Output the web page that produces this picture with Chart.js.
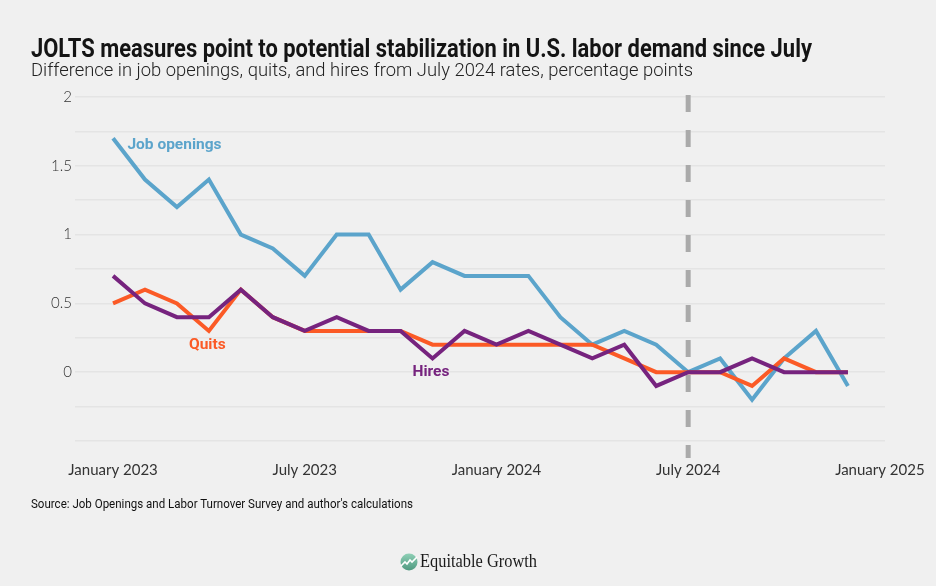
<!DOCTYPE html>
<html>
<head>
<meta charset="utf-8">
<script src="https://cdn.jsdelivr.net/npm/chart.js@4.4.1/dist/chart.umd.min.js"></script>
<style>
html,body{margin:0;padding:0;background:#f0f0f0;}
body{width:936px;height:586px;position:relative;overflow:hidden;}
#c{position:absolute;left:0;top:0;}
.t{position:absolute;white-space:nowrap;transform-origin:0 0;line-height:1;}
#title{left:31px;top:36px;font-family:"Liberation Sans Narrow","Roboto",sans-serif;font-weight:bold;font-size:25px;color:#141414;}
#sub{left:31px;top:60px;font-family:"Roboto",sans-serif;font-weight:300;font-size:19px;color:#222;}
#src{left:31px;top:497px;font-family:"Liberation Sans Narrow","Roboto",sans-serif;font-size:13px;color:#111;}
#logo{position:absolute;left:400px;top:552px;height:20px;}
#logoText{left:420px;top:552px;font-family:"Liberation Serif",serif;font-size:18px;color:#1a1a1a;}
</style>
</head>
<body>
<canvas id="c" width="936" height="586"></canvas>
<div class="t" id="title" data-w="781">JOLTS measures point to potential stabilization in U.S. labor demand since July</div>
<div class="t" id="sub" data-w="662">Difference in job openings, quits, and hires from July 2024 rates, percentage points</div>
<div class="t" id="src" data-w="382">Source: Job Openings and Labor Turnover Survey and author's calculations</div>
<svg id="logo" width="18" height="20" viewBox="0 0 18 20">
  <defs><linearGradient id="g" x1="0" y1="0" x2="0" y2="1"><stop offset="0" stop-color="#8fd0b6"/><stop offset="1" stop-color="#4f9980"/></linearGradient></defs>
  <circle cx="9" cy="10" r="8.5" fill="url(#g)"/>
  <polyline points="1,14 5,10 7,12 10,8 12,10 17,5" fill="none" stroke="#fff" stroke-width="1.6"/>
</svg>
<div class="t" id="logoText" data-w="117">Equitable Growth</div>
<script>
// ---- data (monthly, January 2023 .. December 2024) ----
const months = ["2023-01","2023-02","2023-03","2023-04","2023-05","2023-06","2023-07","2023-08","2023-09","2023-10","2023-11","2023-12",
                "2024-01","2024-02","2024-03","2024-04","2024-05","2024-06","2024-07","2024-08","2024-09","2024-10","2024-11","2024-12"];
const jobOpenings = [1.7,1.4,1.2,1.4,1.0,0.9,0.7,1.0,1.0,0.6,0.8,0.7,0.7,0.7,0.4,0.2,0.3,0.2,0.0,0.1,-0.2,0.1,0.3,-0.1];
const quits       = [0.5,0.6,0.5,0.3,0.6,0.4,0.3,0.3,0.3,0.3,0.2,0.2,0.2,0.2,0.2,0.2,0.1,0.0,0.0,0.0,-0.1,0.1,0.0,0.0];
const hires       = [0.7,0.5,0.4,0.4,0.6,0.4,0.3,0.4,0.3,0.3,0.1,0.3,0.2,0.3,0.2,0.1,0.2,-0.1,0.0,0.0,0.1,0.0,0.0,0.0];
const xTickPositions = [0,6,12,18,24];
const xTickLabels = ["January 2023","July 2023","January 2024","July 2024","January 2025"];
const yTickValues = [-0.5,-0.25,0,0.25,0.5,0.75,1,1.25,1.5,1.75,2];
const referenceMonth = 18; // July 2024

// fit text widths
document.querySelectorAll('.t[data-w]').forEach(el=>{
  const w = el.getBoundingClientRect().width;
  el.style.transform = 'scaleX(' + (parseFloat(el.dataset.w)/w) + ')';
});

const toPts = arr => arr.map((v,i)=>({x:i,y:v}));

const annot = {
  id:'annot',
  beforeDatasetsDraw(chart){
    const {ctx, scales:{x}} = chart;
    const px = x.getPixelForValue(referenceMonth);
    ctx.save();
    ctx.strokeStyle = '#aaaaaa';
    ctx.lineWidth = 5;
    ctx.setLineDash([17,18]);
    ctx.beginPath();
    ctx.moveTo(px, chart.chartArea.top - 2);
    ctx.lineTo(px, chart.chartArea.bottom + 17);
    ctx.stroke();
    ctx.restore();
  },
  afterDatasetsDraw(chart){
    const {ctx, scales:{x,y}} = chart;
    ctx.save();
    ctx.font = 'bold 15.5px Roboto';
    ctx.textBaseline = 'middle';
    ctx.fillStyle = '#5ba4cb'; ctx.textAlign = 'left';
    ctx.fillText('Job openings', x.getPixelForValue(0.45), y.getPixelForValue(1.65));
    ctx.fillStyle = '#fb5a26'; ctx.textAlign = 'center';
    ctx.fillText('Quits', x.getPixelForValue(2.95), y.getPixelForValue(0.195));
    ctx.fillStyle = '#76237e';
    ctx.fillText('Hires', x.getPixelForValue(9.95), y.getPixelForValue(0));
    ctx.restore();
  }
};

const common = {borderWidth:4, pointRadius:0, tension:0, fill:false, borderCapStyle:'butt', borderJoinStyle:'miter'};
new Chart(document.getElementById('c'), {
  type:'line',
  data:{datasets:[
    Object.assign({label:'Hires', data:toPts(hires), borderColor:'#76237e'}, common),
    Object.assign({label:'Quits', data:toPts(quits), borderColor:'#fb5a26'}, common),
    Object.assign({label:'Job openings', data:toPts(jobOpenings), borderColor:'#5ba4cb'}, common)
  ]},
  options:{
    responsive:false, animation:false,
    layout:{padding:{top:97,left:0,right:51,bottom:95}},
    plugins:{legend:{display:false}, tooltip:{enabled:false}},
    scales:{
      x:{type:'linear', min:-1.19, max:24.16,
         grid:{display:false}, border:{display:false},
         afterBuildTicks(s){ s.ticks = xTickPositions.map(v=>({value:v})); },
         ticks:{callback:(v,i)=>xTickLabels[i], font:{family:'Lato', size:15}, color:'#333', padding:12, maxRotation:0, autoSkip:false},
         afterFit(s){ s.height = 50; s.paddingLeft = 0; s.paddingRight = 0; }},
      y:{min:-0.5, max:2,
         grid:{color:'#e4e4e4', lineWidth:1.5, drawTicks:false}, border:{display:false},
         afterBuildTicks(s){ s.ticks = yTickValues.map(v=>({value:v})); },
         ticks:{callback:(v)=> (v>=0 && Math.abs(v*2-Math.round(v*2))<1e-9) ? String(v) : '', font:{family:'Lato', size:15, weight:300}, color:'#333', padding:3, autoSkip:false},
         afterFit(s){ s.width = 75; }}
    }
  },
  plugins:[annot]
});
</script>
</body>
</html>
